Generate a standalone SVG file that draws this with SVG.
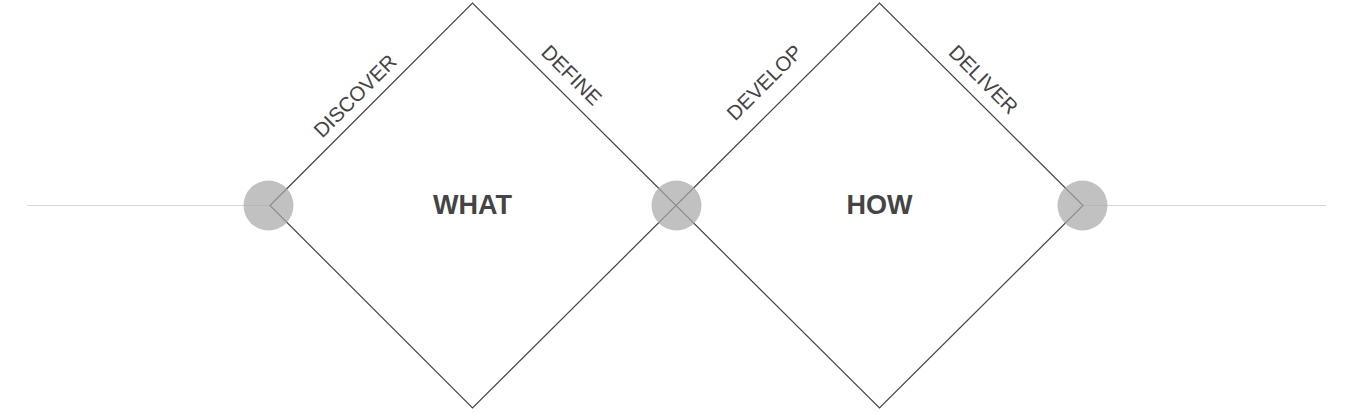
<svg xmlns="http://www.w3.org/2000/svg" width="1366" height="413" viewBox="0 0 1366 413">
<style>
.edge{fill:none;stroke:#444;stroke-width:1.2}
.axis{stroke:#d6d6d6;stroke-width:1}
.dot{fill:#aaa;fill-opacity:0.73}
.lbl{font-family:"Liberation Sans",Arial,sans-serif;font-size:20.5px;fill:#444;text-anchor:middle}
.big{font-family:"Liberation Sans",Arial,sans-serif;font-size:27px;font-weight:bold;fill:#444;text-anchor:middle}
</style>
<rect width="1366" height="413" fill="#fff"/>
<g id="connectors">
<line class="axis" x1="27" y1="205.5" x2="270" y2="205.5"/>
<line class="axis" x1="1083" y1="205.5" x2="1326" y2="205.5"/>
</g>
<g id="diamond-what">
<polygon class="edge" points="270,205.5 472.5,3 676,205.5 472.5,408"/>
<text class="big" x="472.5" y="214">WHAT</text>
</g>
<g id="diamond-how">
<polygon class="edge" points="676,205.5 879.5,3 1083,205.5 879.5,408"/>
<text class="big" x="879.5" y="214">HOW</text>
</g>
<g id="labels">
<text class="lbl" transform="translate(360,101) rotate(-45)">DISCOVER</text>
<text class="lbl" transform="translate(566.5,80) rotate(45)">DEFINE</text>
<text class="lbl" transform="translate(769.5,87.5) rotate(-45)">DEVELOP</text>
<text class="lbl" transform="translate(978.5,84.5) rotate(45)">DELIVER</text>
</g>
<g id="node-start"><circle class="dot" cx="268.5" cy="205.5" r="25"/></g>
<g id="node-mid"><circle class="dot" cx="676.5" cy="205.5" r="25"/></g>
<g id="node-end"><circle class="dot" cx="1082.5" cy="205.5" r="25"/></g>
</svg>
